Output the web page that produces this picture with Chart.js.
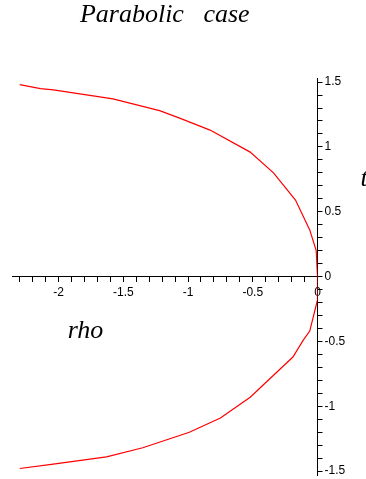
<!DOCTYPE html>
<html>
<head>
<meta charset="utf-8">
<script src="https://cdn.jsdelivr.net/npm/chart.js@4"></script>
<style>
    html, body { margin: 0; padding: 0; background: #fff; }
    #wrap { width: 366px; height: 479px; }
</style>
</head>
<body>
<div id="wrap"><canvas id="parabolic-chart"></canvas></div>
<script>
// values, top branch first then bottom branch
const rhoValues = [-2.30, -2.14, -2.04, -1.58, -1.22, -1.06, -0.83, -0.52, -0.34, -0.17, -0.06, -0.01, 0,
    0, -0.06, -0.11, -0.19, -0.52, -0.75, -0.99, -1.35, -1.63, -2.07, -2.30];
const tValues = [1.48, 1.45, 1.44, 1.37, 1.28, 1.22, 1.13, 0.96, 0.80, 0.59, 0.36, 0.20, 0,
    -0.18, -0.42, -0.49, -0.62, -0.93, -1.09, -1.20, -1.32, -1.39, -1.45, -1.48];
const xRange = [-2.36, 0];
const yRange = [-1.53, 1.53];
const titleText = 'Parabolic   case';
const xTitle = 'rho';
const yTitle = 't';

const serif = 'italic 26px "Liberation Serif", "DejaVu Serif", serif';

let points = [];
for (let i = 0; i < rhoValues.length; i++) {
    points.push({x: rhoValues[i], y: tValues[i]});
}

// label only the half steps, the tenths stay bare ticks
function halfLabel(value) {
    let twice = value * 2;
    if (Math.abs(twice - Math.round(twice)) > 1e-6) {
        return '';
    }
    return String(Math.round(twice) / 2);
}

// axis names are drawn upright, next to the axes
const axisNames = {
    id: 'axisNames',
    afterDraw(chart) {
        const ctx = chart.ctx;
        const x = chart.scales.x;
        const y = chart.scales.y;
        ctx.save();
        ctx.font = serif;
        ctx.fillStyle = '#000';
        ctx.textBaseline = 'alphabetic';
        ctx.textAlign = 'left';
        ctx.fillText(xTitle, x.getPixelForValue(-1.93), y.getPixelForValue(-0.47));
        ctx.textBaseline = 'middle';
        ctx.fillText(yTitle, x.right + 43, y.getPixelForValue(0.75));
        ctx.restore();
    }
};

const tickFont = {family: '"Liberation Sans", Arial, sans-serif', size: 12};

new Chart(document.querySelector('#parabolic-chart'), {
    type: 'scatter',
    data: {
        datasets: [{
            data: points,
            showLine: true,
            borderColor: '#ff0000',
            borderWidth: 1.2,
            pointRadius: 0,
            tension: 0,
        }]
    },
    options: {
        responsive: true,
        maintainAspectRatio: false,
        animation: false,
        layout: {padding: {left: 12, right: 0, top: 0, bottom: 4}},
        plugins: {
            legend: {display: false},
            tooltip: {enabled: false},
            title: {
                display: true,
                text: titleText,
                fullSize: false,
                color: '#000',
                font: {family: '"Liberation Serif", "DejaVu Serif", serif', size: 26, style: 'italic', weight: 'normal'},
                padding: {top: 0, bottom: 47},
            },
        },
        scales: {
            x: {
                type: 'linear',
                position: {y: 0},
                min: xRange[0],
                max: xRange[1],
                grid: {drawOnChartArea: false, drawTicks: true, tickLength: 5, color: '#000'},
                border: {display: true, color: '#000', width: 1},
                ticks: {
                    stepSize: 0.1,
                    includeBounds: false,
                    autoSkip: false,
                    maxRotation: 0,
                    padding: 4,
                    color: '#000',
                    font: tickFont,
                    callback: halfLabel,
                },
            },
            y: {
                type: 'linear',
                position: 'right',
                min: yRange[0],
                max: yRange[1],
                afterFit(scale) {
                    scale.width = 48.5;
                    scale.paddingTop = 0;
                    scale.paddingBottom = 0;
                },
                grid: {drawOnChartArea: false, drawTicks: true, tickLength: 5, color: '#000'},
                border: {display: true, color: '#000', width: 1},
                ticks: {
                    stepSize: 0.1,
                    includeBounds: false,
                    autoSkip: false,
                    padding: 2,
                    color: '#000',
                    font: tickFont,
                    callback: halfLabel,
                },
            },
        },
    },
    plugins: [axisNames],
});
</script>
</body>
</html>
